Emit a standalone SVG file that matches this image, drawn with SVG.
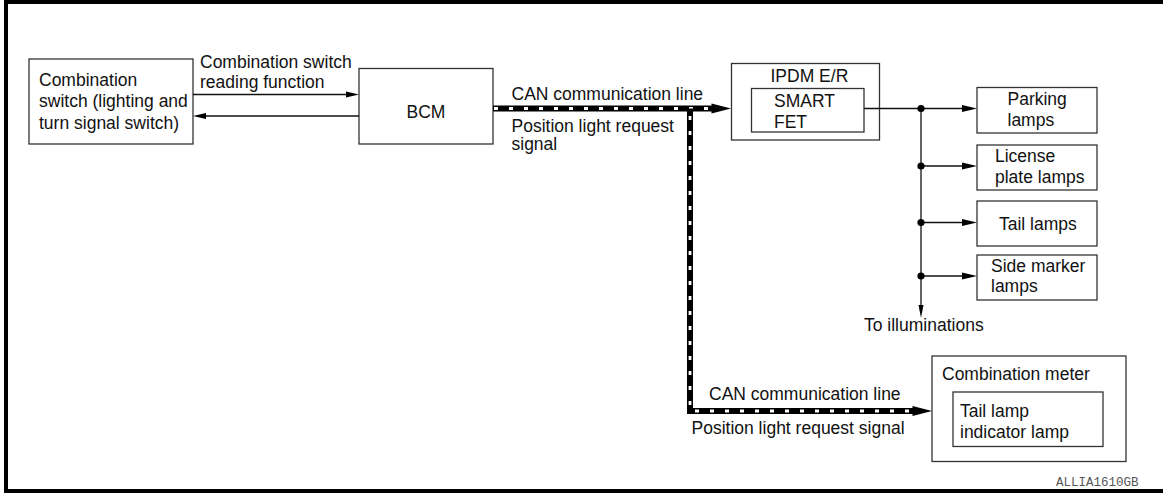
<svg xmlns="http://www.w3.org/2000/svg" width="1163" height="493" viewBox="0 0 1163 493">
<style>
.t{font-family:"Liberation Sans",Arial,sans-serif;font-size:17.5px;fill:#111}
.box{fill:#fff;stroke:#333;stroke-width:1.3}
.ln{fill:none;stroke:#111;stroke-width:1.3}
.canb{fill:none;stroke:#000;stroke-width:6}
.canw{fill:none;stroke:#fff;stroke-width:2.8;stroke-dasharray:4 11}
.ah{fill:#000}
.code{font-family:"Liberation Mono","Courier New",monospace;font-size:12.5px;fill:#555}
</style>
<rect width="1163" height="493" fill="#fff"/>
<path d="M1170,2 H6 V491 H1170" fill="none" stroke="#000" stroke-width="4"/>

<g id="combo-switch">
<rect class="box" x="29" y="59" width="164" height="85"/>
<text class="t" x="39" y="85.5">Combination</text>
<text class="t" x="39" y="107">switch (lighting and</text>
<text class="t" x="39" y="128.5">turn signal switch)</text>
</g>

<g id="bcm">
<rect class="box" x="359" y="68.5" width="134" height="75.5"/>
<text class="t" x="426" y="118" text-anchor="middle">BCM</text>
</g>

<g id="ipdm">
<rect class="box" x="731.5" y="63.5" width="148" height="76.5"/>
<text class="t" x="770.5" y="81.5">IPDM E/R</text>
<rect class="box" x="751.5" y="88.5" width="112.5" height="43.5"/>
<text class="t" x="774" y="106.5">SMART</text>
<text class="t" x="774" y="128">FET</text>
</g>

<g id="parking">
<rect class="box" x="977" y="87.5" width="120" height="45.5"/>
<text class="t" x="1007.5" y="105">Parking</text>
<text class="t" x="1007.5" y="125.5">lamps</text>
</g>
<g id="license">
<rect class="box" x="977" y="145" width="120" height="45"/>
<text class="t" x="995" y="162">License</text>
<text class="t" x="995" y="182.5">plate lamps</text>
</g>
<g id="tail">
<rect class="box" x="977" y="201" width="120" height="45"/>
<text class="t" x="999" y="229.5">Tail lamps</text>
</g>
<g id="side">
<rect class="box" x="977" y="255" width="120" height="45"/>
<text class="t" x="991" y="271.5">Side marker</text>
<text class="t" x="991" y="291.5">lamps</text>
</g>

<g id="meter">
<rect class="box" x="932" y="356" width="194" height="105.5"/>
<text class="t" x="942" y="379.5">Combination meter</text>
<rect class="box" x="953" y="392" width="150" height="54.5"/>
<text class="t" x="960" y="416.5">Tail lamp</text>
<text class="t" x="960" y="438">indicator lamp</text>
</g>

<g id="connectors">
<line class="ln" x1="193" y1="94.5" x2="348" y2="94.5"/>
<polygon class="ah" points="359,94.5 346,91.5 346,97.5"/>
<line class="ln" x1="359" y1="116" x2="204" y2="116"/>
<polygon class="ah" points="193,116 206,113 206,119"/>
<text class="t" x="200" y="67.5">Combination switch</text>
<text class="t" x="200" y="88">reading function</text>

<path class="canb" d="M493,108.5 H714"/>
<path class="canw" d="M493,108.5 H712" stroke-dashoffset="-1"/>
<path class="canb" d="M690,108.5 V411 H915"/>
<path class="canw" d="M690,116 V411 H913"/>
<polygon class="ah" points="731,108.5 711.5,103.5 711.5,113.5"/>
<polygon class="ah" points="932,411 912.5,406 912.5,416"/>
<text class="t" x="511.5" y="99.5">CAN communication line</text>
<text class="t" x="511.5" y="131.5">Position light request</text>
<text class="t" x="511.5" y="149.5">signal</text>
<text class="t" x="709" y="400">CAN communication line</text>
<text class="t" x="691.5" y="433.5">Position light request signal</text>

<line class="ln" x1="864" y1="108.5" x2="965" y2="108.5"/>
<line class="ln" x1="921" y1="108.5" x2="921" y2="306"/>
<polygon class="ah" points="921,318 918.5,305 923.5,305"/>
<line class="ln" x1="921" y1="166" x2="965" y2="166"/>
<line class="ln" x1="921" y1="222.5" x2="965" y2="222.5"/>
<line class="ln" x1="921" y1="276" x2="965" y2="276"/>
<polygon class="ah" points="977,108.5 962,105 962,112"/>
<polygon class="ah" points="977,166 962,162.5 962,169.5"/>
<polygon class="ah" points="977,222.5 962,219 962,226"/>
<polygon class="ah" points="977,276 962,272.5 962,279.5"/>
<circle class="ah" cx="921" cy="108.5" r="3.6"/>
<circle class="ah" cx="921" cy="166" r="3.6"/>
<circle class="ah" cx="921" cy="222.5" r="3.6"/>
<circle class="ah" cx="921" cy="276" r="3.6"/>
<text class="t" x="864" y="331">To illuminations</text>
</g>

<text class="code" x="1056" y="486">ALLIA1610GB</text>
</svg>
